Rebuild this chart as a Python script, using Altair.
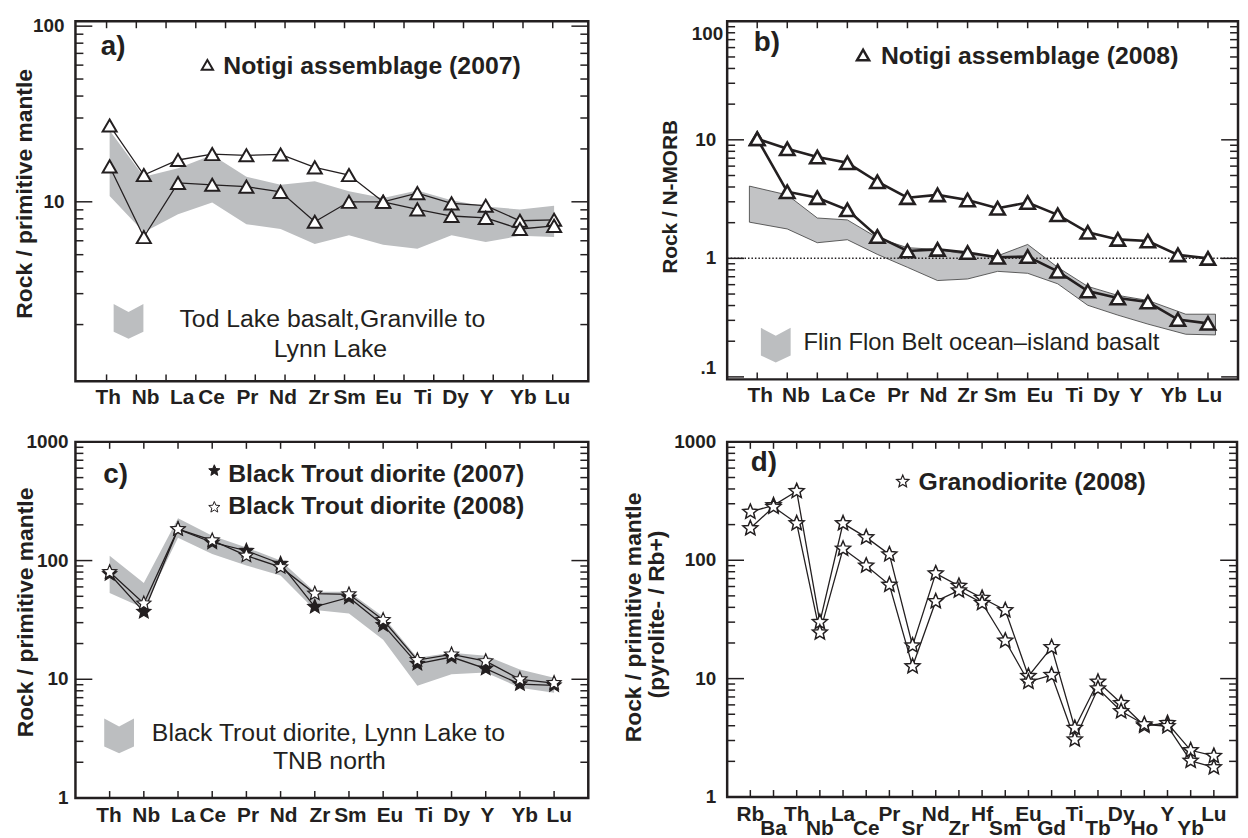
import altair as alt
import pandas as pd

FONT = "Liberation Sans"
INK = "#231f20"
BAND = "#bcbec0"

STAR = ("M0,-1L0.2645,-0.3641L0.9511,-0.309L0.428,0.139L0.5878,0.809L0,0.45"
        "L-0.5878,0.809L-0.428,0.139L-0.9511,-0.309L-0.2645,-0.3641Z")
CHEVRON = "M-0.857,-1L0,-0.54L0.857,-1L0.857,0.6L0,1L-0.857,0.6Z"

# ---------------- panel a : Notigi assemblage (2007) ----------------
a_elements = ["Th", "Nb", "La", "Ce", "Pr", "Nd", "Zr", "Sm", "Eu", "Ti", "Dy", "Y", "Yb", "Lu"]
a_upper = [27.2, 14.2, 17.3, 18.7, 18.4, 18.6, 15.7, 14.2, 10.0, 11.2, 9.8, 9.5, 7.8, 7.9]
a_lower = [15.9, 6.3, 12.8, 12.5, 12.2, 11.4, 7.7, 10.0, 10.0, 9.05, 8.3, 8.1, 7.0, 7.3]
a_band_hi = [25.5, 13.9, 15.5, 18.5, 13.9, 12.5, 13.1, 11.5, 10.5, 11.6, 10.2, 9.4, 9.05, 9.5]
a_band_lo = [10.8, 6.7, 8.5, 9.9, 7.45, 7.0, 5.75, 6.45, 5.7, 5.4, 6.45, 5.9, 6.4, 6.3]
a_label_pos = [0.96, 2.05, 3.12, 3.98, 5.03, 6.07, 7.12, 8.02, 9.16, 10.17, 11.12, 12.03, 13.1, 14.1]
a_xticks = [0.91, 1.78, 2.65, 3.52, 4.39, 5.26, 6.13, 7.0, 7.87, 8.74, 9.61, 10.48, 11.35, 12.22, 13.09, 13.96]
a_ytick_vals = [10, 100]
a_ytick_labs = ["10", "100"]

# ---------------- panel b : Notigi assemblage (2008) ----------------
b_labels = ["Th", "Nb", "La", "Ce", "Pr", "Nd", "Zr", "Sm", "Eu", "Ti", "Dy", "Y", "Yb", "Lu"]
b_label_pos = [1.1, 2.29, 3.54, 4.5, 5.69, 6.87, 8.0, 9.09, 10.41, 11.56, 12.62, 13.61, 14.86, 16.05]
b_upper = [10.2, 8.4, 7.15, 6.4, 4.43, 3.25, 3.43, 3.11, 2.65, 2.96, 2.33, 1.66, 1.445, 1.4, 1.07, 1.0]
b_lower = [10.2, 3.65, 3.25, 2.57, 1.53, 1.155, 1.19, 1.12, 1.02, 1.035, 0.777, 0.53, 0.463, 0.428, 0.305, 0.283]
b_band_x = [0.74, 2, 3, 4, 5, 6, 7, 8, 9, 10, 11, 12, 13, 14, 15.26, 16.25]
b_band_hi = [4.07, 3.43, 2.19, 2.11, 1.49, 1.23, 1.19, 1.08, 1.05, 1.31, 0.84, 0.58, 0.487, 0.442, 0.338, 0.338]
b_band_lo = [2.02, 1.77, 1.355, 1.436, 1.08, 0.84, 0.65, 0.67, 0.777, 0.748, 0.61, 0.402, 0.332, 0.279, 0.229, 0.226]
b_ytick_vals = [1, 10]
b_ytick_labs = ["1", "10"]

# ---------------- panel c : Black Trout diorite ----------------
c_elements = ["Th", "Nb", "La", "Ce", "Pr", "Nd", "Zr", "Sm", "Eu", "Ti", "Dy", "Y", "Yb", "Lu"]
c_2007 = [77, 37, 184, 142, 121, 94, 40.8, 48.9, 28.7, 13.5, 15.4, 12.3, 9.1, 8.9]
c_2008 = [80, 43.5, 184, 148, 110, 88, 52.7, 52, 31.6, 14.5, 16.2, 14.2, 10.0, 9.3]
c_band_hi = [110, 64.7, 227, 162, 129, 100, 54.5, 54.5, 33.7, 15.2, 16.7, 15.8, 12.1, 10.3]
c_band_lo = [53.4, 39.6, 156, 113.6, 90.8, 75, 38.3, 35.9, 21.5, 8.8, 11.0, 11.4, 8.5, 7.7]
c_label_pos = [0.98, 2.07, 3.15, 4.02, 5.05, 6.09, 7.15, 8.04, 9.2, 10.2, 11.15, 12.05, 13.14, 14.15]
cd_ytick_vals = [1, 10, 100, 1000]
cd_ytick_labs = ["1", "10", "100", "1000"]

# ---------------- panel d : Granodiorite (2008) ----------------
d_elements = ["Rb", "Ba", "Th", "Nb", "La", "Ce", "Pr", "Sr", "Nd", "Zr", "Hf",
              "Sm", "Eu", "Gd", "Ti", "Tb", "Dy", "Ho", "Y", "Yb", "Lu"]
d_s1 = [256, 291, 383, 30, 205, 156, 112, 19, 77.4, 60.7, 48, 37.8, 10.5, 18.4, 3.83, 9.4, 6.2, 4.0, 4.2, 2.48, 2.22]
d_s2 = [186, 282, 205, 24.5, 125, 90, 62, 12.7, 45, 55.5, 43.5, 20.9, 9.4, 10.7, 3.06, 8.25, 5.3, 4.1, 3.96, 2.02, 1.78]

minor_1_100 = [2, 3, 4, 5, 6, 7, 8, 9, 20, 30, 40, 50, 60, 70, 80, 90]
minor_01_100 = [0.2, 0.3, 0.4, 0.5, 0.6, 0.7, 0.8, 0.9] + minor_1_100
minor_1_1000 = minor_1_100 + [200, 300, 400, 500, 600, 700, 800, 900]


def one(t):
    return pd.DataFrame({"t": [t]})


def text_mark(t, x, y, size, weight="bold", align="left", angle=0):
    return alt.Chart(one(t)).mark_text(
        font=FONT, fontSize=size, fontWeight=weight, align=align,
        baseline="middle", angle=angle, color=INK
    ).encode(text="t:N", x=alt.value(x), y=alt.value(y))


def symbol(shape, x, y, size, fill, sw):
    return alt.Chart(one("")).mark_point(
        shape=shape, size=size, filled=True, fill=fill, stroke=INK,
        strokeWidth=sw, opacity=1
    ).encode(x=alt.value(x), y=alt.value(y))


def swatch(x, y):
    return alt.Chart(one("")).mark_point(
        shape=CHEVRON, size=1225, filled=True, fill=BAND, strokeWidth=0, opacity=1
    ).encode(x=alt.value(x), y=alt.value(y))


def frame_ticks(xs, xticks, ys, ymajor, yminor, W, H):
    out = []
    r = alt.Chart(pd.DataFrame({"v": xticks})).mark_rule(color=INK, strokeWidth=1.5)
    out.append(r.encode(x=alt.X("v:Q", scale=xs, axis=None), y=alt.value(H), y2=alt.value(H - 7)))
    out.append(r.encode(x=alt.X("v:Q", scale=xs, axis=None), y=alt.value(0), y2=alt.value(7)))
    for vals, L in ((ymajor, 17), (yminor, 8)):
        r = alt.Chart(pd.DataFrame({"v": vals})).mark_rule(color=INK, strokeWidth=1.5)
        out.append(r.encode(y=alt.Y("v:Q", scale=ys, axis=None), x=alt.value(0), x2=alt.value(L)))
        out.append(r.encode(y=alt.Y("v:Q", scale=ys, axis=None), x=alt.value(W), x2=alt.value(W - L)))
    return out


def ylabels(vals, labs, ys, pad, dy=0, size=19):
    return alt.Chart(pd.DataFrame({"v": vals, "lab": labs})).mark_text(
        font=FONT, fontSize=size, fontWeight="bold", color=INK, align="right",
        baseline="middle", dy=dy
    ).encode(y=alt.Y("v:Q", scale=ys, axis=None), x=alt.value(-pad), text="lab:N")


def xlabels(pos, labs, xs, y, size=21):
    return alt.Chart(pd.DataFrame({"pos": pos, "lab": labs})).mark_text(
        font=FONT, fontSize=size, fontWeight="bold", color=INK, baseline="middle", align="center"
    ).encode(x=alt.X("pos:Q", scale=xs, axis=None), y=alt.value(y), text="lab:N")


def series(pos, vals_list, names):
    return pd.concat([pd.DataFrame({"pos": pos, "val": v, "s": n}) for v, n in zip(vals_list, names)])


def band(pos, hi, lo, xs, ys, **kw):
    return alt.Chart(pd.DataFrame({"pos": pos, "hi": hi, "lo": lo})).mark_area(**kw).encode(
        x=alt.X("pos:Q", scale=xs, axis=None),
        y=alt.Y("hi:Q", scale=ys, axis=None), y2="lo:Q")


def lines(df, xs, ys, lw):
    return alt.Chart(df).mark_line(color=INK, strokeWidth=lw).encode(
        x=alt.X("pos:Q", scale=xs, axis=None), y=alt.Y("val:Q", scale=ys, axis=None), detail="s:N")


def points(df, xs, ys, shape, size, fill, sw):
    return alt.Chart(df).mark_point(shape=shape, size=size, filled=True, fill=fill, stroke=INK,
                                    strokeWidth=sw, opacity=1).encode(
        x=alt.X("pos:Q", scale=xs, axis=None), y=alt.Y("val:Q", scale=ys, axis=None))


# ================= panel a =================
W_A, H_A = 517, 363
XS_A = alt.Scale(domain=[0, 15], nice=False, zero=False)
YS_A = alt.Scale(type="log", domain=[0.95, 106.6], nice=False)
pos_a = list(range(1, len(a_elements) + 1))
df_a = series(pos_a, [a_upper, a_lower], ["u", "l"])
panel_a = alt.layer(
    band(pos_a, a_band_hi, a_band_lo, XS_A, YS_A, color=BAND),
    *frame_ticks(XS_A, a_xticks, YS_A, [10, 100], minor_1_100, W_A, H_A),
    lines(df_a, XS_A, YS_A, 1.3),
    points(df_a, XS_A, YS_A, "triangle-up", 200, "white", 2),
    ylabels(a_ytick_vals, a_ytick_labs, YS_A, 11),
    xlabels(a_label_pos, a_elements, XS_A, H_A + 17),
    text_mark("a)", 38, 26, 28, align="center"),
    symbol("triangle-up", 133, 44, 130, "white", 2),
    text_mark("Notigi assemblage (2007)", 149, 45, 25),
    swatch(53.5, 302.5),
    text_mark("Tod Lake basalt,Granville to", 259, 300, 25, weight="normal", align="center"),
    text_mark("Lynn Lake", 257, 330, 25, weight="normal", align="center"),
    text_mark("Rock / primitive mantle", -51, 174, 23, align="center", angle=270),
).properties(width=W_A, height=H_A)

# ================= panel b =================
W_B, H_B = 515, 361
XS_B = alt.Scale(domain=[0, 17], nice=False, zero=False)
YS_B = alt.Scale(type="log", domain=[0.0953, 100], nice=False)
pos_b = list(range(1, len(b_upper) + 1))
df_b = series(pos_b, [b_upper, b_lower], ["u", "l"])
dotted_b = alt.Chart(pd.DataFrame({"v": [1]})).mark_rule(color=INK, strokeWidth=1.5, strokeDash=[1.5, 2]).encode(
    y=alt.Y("v:Q", scale=YS_B, axis=None), x=alt.value(0), x2=alt.value(W_B))
panel_b = alt.layer(
    band(b_band_x, b_band_hi, b_band_lo, XS_B, YS_B, color="#c2c3c5", stroke="#3a3a3a", strokeWidth=0.8),
    *frame_ticks(XS_B, pos_b, YS_B, [0.1, 1, 10, 100], minor_01_100, W_B, H_B),
    dotted_b,
    lines(df_b, XS_B, YS_B, 2.6),
    points(df_b, XS_B, YS_B, "triangle-up", 210, "white", 2.6),
    ylabels(b_ytick_vals, b_ytick_labs, YS_B, 11),
    ylabels([100], ["100"], YS_B, 4, dy=13),
    ylabels([0.1], [".1"], YS_B, 11, dy=-9),
    xlabels(b_label_pos, b_labels, XS_B, H_B + 17),
    text_mark("b)", 40, 22, 28, align="center"),
    symbol("triangle-up", 137, 34, 150, "white", 2.5),
    text_mark("Notigi assemblage (2008)", 155, 35, 25),
    swatch(49, 326.5),
    text_mark("Flin Flon Belt ocean\u2013island basalt", 77, 324, 24, weight="normal"),
    text_mark("Rock / N-MORB", -57, 177, 21, align="center", angle=270),
).properties(width=W_B, height=H_B)

# ================= panel c =================
W_C, H_C = 517, 359
XS_C = alt.Scale(domain=[0, 15], nice=False, zero=False)
YS_C = alt.Scale(type="log", domain=[1, 1000], nice=False)
pos_c = list(range(1, len(c_elements) + 1))
df_c7 = series(pos_c, [c_2007], ["2007"])
df_c8 = series(pos_c, [c_2008], ["2008"])
panel_c = alt.layer(
    band(pos_c, c_band_hi, c_band_lo, XS_C, YS_C, color=BAND),
    *frame_ticks(XS_C, pos_c, YS_C, [1, 10, 100, 1000], minor_1_1000, W_C, H_C),
    lines(df_c7, XS_C, YS_C, 1.3),
    points(df_c7, XS_C, YS_C, STAR, 220, INK, 1.2),
    lines(df_c8, XS_C, YS_C, 1.3),
    points(df_c8, XS_C, YS_C, STAR, 220, "white", 1.2),
    ylabels(cd_ytick_vals, cd_ytick_labs, YS_C, 7),
    xlabels(c_label_pos, c_elements, XS_C, H_C + 18),
    text_mark("c)", 40.5, 33, 28, align="center"),
    symbol(STAR, 140, 29, 140, INK, 1),
    text_mark("Black Trout diorite (2007)", 154, 32, 25),
    symbol(STAR, 140, 66, 140, "white", 1),
    text_mark("Black Trout diorite (2008)", 154, 65, 25),
    swatch(44, 296.5),
    text_mark("Black Trout diorite, Lynn Lake to", 255, 294, 25, weight="normal", align="center"),
    text_mark("TNB north", 256, 322, 25, weight="normal", align="center"),
    text_mark("Rock / primitive mantle", -50, 172, 23, align="center", angle=270),
).properties(width=W_C, height=H_C)

# ================= panel d =================
W_D, H_D = 514, 358
XS_D = alt.Scale(domain=[0, 22], nice=False, zero=False)
YS_D = alt.Scale(type="log", domain=[1, 1000], nice=False)
pos_d = list(range(1, len(d_elements) + 1))
df_d = series(pos_d, [d_s1, d_s2], ["s1", "s2"])
panel_d = alt.layer(
    *frame_ticks(XS_D, pos_d, YS_D, [1, 10, 100, 1000], minor_1_1000, W_D, H_D),
    lines(df_d, XS_D, YS_D, 1.3),
    points(df_d, XS_D, YS_D, STAR, 250, "white", 1.5),
    ylabels(cd_ytick_vals, cd_ytick_labs, YS_D, 11),
    xlabels(pos_d[0::2], d_elements[0::2], XS_D, H_D + 18),
    xlabels(pos_d[1::2], d_elements[1::2], XS_D, H_D + 32),
    text_mark("d)", 37, 21, 28, align="center"),
    symbol(STAR, 177, 40, 170, "white", 1.2),
    text_mark("Granodiorite (2008)", 193, 41, 25),
    text_mark("Rock / primitive mantle", -94, 177, 23, align="center", angle=270),
    text_mark("(pyrolite- / Rb+)", -71, 174, 23, align="center", angle=270),
).properties(width=W_D, height=H_D)

chart = alt.concat(
    panel_a, panel_b, panel_c, panel_d,
    columns=2, spacing={"row": 61, "column": 140}, bounds="flush"
).properties(
    padding={"left": 4, "top": 4, "right": 0, "bottom": 0}, background="white"
).configure_view(stroke=INK, strokeWidth=2.5)

chart.save("out.html", embed_options={"renderer": "svg", "actions": False})
